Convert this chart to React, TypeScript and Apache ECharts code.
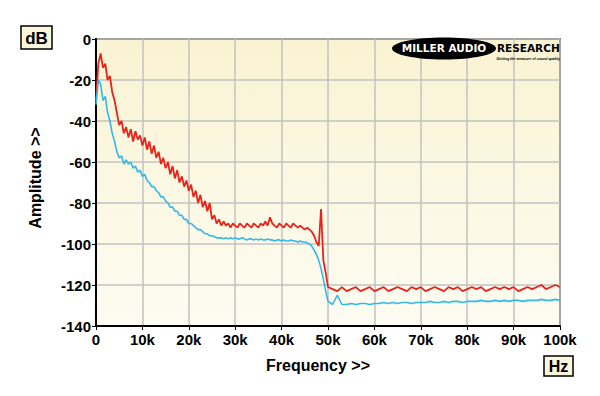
import React, { useEffect, useRef } from "react";
import * as echarts from "echarts";

// Frequency in kHz
const freqs: number[] = [
  0, 0.5, 1, 1.5, 2, 2.5, 3, 3.5, 4, 4.5, 5, 5.5, 6, 6.5, 7, 7.5, 8, 8.5, 9, 9.5,
  10, 10.5, 11, 11.5, 12, 12.5, 13, 13.5, 14, 14.5, 15, 15.5, 16, 16.5, 17, 17.5, 18, 18.5, 19, 19.5,
  20, 20.5, 21, 21.5, 22, 22.5, 23, 23.5, 24, 24.5, 25, 25.5, 26, 26.5, 27, 27.5, 28, 28.5, 29, 29.5,
  30, 30.5, 31, 31.5, 32, 32.5, 33, 33.5, 34, 34.5, 35, 35.5, 36, 36.5, 37, 37.5, 38, 38.5, 39, 39.5,
  40, 40.5, 41, 41.5, 42, 42.5, 43, 43.5, 44, 44.5, 45, 45.5, 46, 46.5, 47, 47.5, 48, 48.5, 49, 49.5,
  50, 51, 52, 53, 54, 55, 56, 57, 58, 59, 60, 61, 62, 63, 64, 65, 66, 67, 68, 69,
  70, 71, 72, 73, 74, 75, 76, 77, 78, 79, 80, 81, 82, 83, 84, 85, 86, 87, 88, 89,
  90, 91, 92, 93, 94, 95, 96, 97, 98, 99, 100,
];

const redDb: number[] = [
  -30, -12, -7, -14, -12, -20, -18, -26, -30, -36, -42, -40, -46, -43, -48, -44, -50, -45, -49, -47,
  -52, -48, -54, -50, -56, -52, -58, -55, -61, -58, -63, -60, -66, -62, -68, -64, -70, -67, -72, -69,
  -74, -71, -77, -74, -80, -76, -82, -79, -84, -80, -88, -86, -90, -88, -91, -89, -91, -90, -92, -90,
  -91, -92, -90, -91, -92, -90, -91, -92, -90, -91, -92, -90, -91, -89, -91, -87, -90, -91, -92, -90,
  -91, -92, -90, -91, -92, -90, -91, -92, -91, -92, -93, -92, -93, -94, -96, -99, -101, -83, -108, -114,
  -121, -122, -123, -121, -123, -122, -121, -123, -122, -121, -123, -122, -121, -123, -122, -121, -122, -123, -121, -122,
  -121, -123, -122, -121, -122, -123, -121, -122, -121, -123, -122, -121, -122, -121, -123, -122, -121, -122, -121, -122,
  -121, -123, -122, -121, -122, -121, -120, -122, -121, -120, -121,
];

const blueDb: number[] = [
  -32, -20, -22, -30, -28, -36, -40, -46, -50, -55, -58, -57, -61, -59, -61, -60, -63, -62, -65, -64,
  -67, -66, -69, -70, -72, -72, -74, -75, -77, -77, -79, -80, -82, -82, -84, -84, -86, -86, -88, -88,
  -90, -90, -91, -92, -93, -93, -94, -95, -95, -96, -96, -96.5, -97, -97, -97, -97.5, -97, -97.5, -97, -97.5,
  -97, -97.5, -97.5, -97, -97.5, -98, -97.5, -97.5, -98, -97.5, -98, -97.5, -98, -98, -97.5, -98, -98, -98.5, -98, -98,
  -98.5, -98, -98.5, -98.5, -98, -98.5, -98.5, -99, -98.5, -99, -99, -99.5, -100, -101, -103, -105, -108, -112, -117, -123,
  -128, -129.5, -125, -129.5, -129.5, -129, -129.5, -129, -129, -129.5, -129, -129, -128.5, -129, -128.5, -129, -128.5, -128.5, -129, -128.5,
  -128.5, -128.5, -128, -128.5, -128.5, -128, -128.5, -128, -128, -128.5, -128, -128, -128, -127.5, -128, -128, -127.5, -128, -127.5, -128,
  -127.5, -127.5, -128, -127.5, -127.5, -127.5, -127, -127.5, -127.5, -127, -127.5,
];

const yTicks = { min: -140, max: 0, step: 20 };
const xTicks = { min: 0, max: 100, step: 10 };

const FONT = "'Liberation Sans', Arial, sans-serif";
const HEAVY = "'DejaVu Sans', 'Liberation Sans', sans-serif";

export default function App() {
  const ref = useRef<HTMLDivElement>(null);
  useEffect(() => {
    if (!ref.current) return;
    const chart = echarts.init(ref.current, undefined, { renderer: "svg" });
    const red = freqs.map((f, i) => [f, redDb[i]]);
    const blue = freqs.map((f, i) => [f, blueDb[i]]);
    chart.setOption({
      animation: false,
      backgroundColor: "#ffffff",
      grid: {
        left: 96,
        right: 40,
        top: 39,
        bottom: 70,
        show: true,
        borderColor: "#1a1a1a",
        borderWidth: 1.5,
        backgroundColor: new echarts.graphic.LinearGradient(0, 0, 0, 1, [
          { offset: 0, color: "#faf3d2" },
          { offset: 1, color: "#fdfcf2" },
        ]),
      },
      xAxis: {
        type: "value",
        min: xTicks.min,
        max: xTicks.max,
        interval: xTicks.step,
        axisLine: { show: true, onZero: false, lineStyle: { color: "#000", width: 2 } },
        axisTick: { show: true, length: 4, lineStyle: { color: "#000", width: 1 } },
        axisLabel: {
          color: "#000",
          fontFamily: FONT,
          fontWeight: "bold",
          fontSize: 15,
          margin: 6,
          formatter: (v: number) => (v === 0 ? "0" : `${v}k`),
        },
        splitLine: { show: true, lineStyle: { color: "#c2c2c2", width: 1.5 } },
      },
      yAxis: {
        type: "value",
        min: yTicks.min,
        max: yTicks.max,
        interval: yTicks.step,
        axisLine: { show: true, onZero: false, lineStyle: { color: "#000", width: 2 } },
        axisTick: { show: true, length: 4, lineStyle: { color: "#000", width: 1 } },
        axisLabel: {
          color: "#000",
          fontFamily: FONT,
          fontWeight: "bold",
          fontSize: 15,
          margin: 5,
        },
        splitLine: { show: true, lineStyle: { color: "#c2c2c2", width: 1.5 } },
      },
      series: [
        {
          type: "line",
          data: red,
          showSymbol: false,
          lineStyle: { color: "#e8231a", width: 1.8 },
          z: 3,
        },
        {
          type: "line",
          data: blue,
          showSymbol: false,
          lineStyle: { color: "#33b8ea", width: 1.6 },
          z: 4,
        },
      ],
      graphic: [
        {
          type: "rect",
          shape: { x: 21, y: 26, width: 31, height: 23 },
          style: { fill: "#fbf7dc", stroke: "#000", lineWidth: 1.5 },
        },
        {
          type: "text",
          x: 36.5,
          y: 38,
          style: {
            text: "dB",
            fontFamily: FONT,
            fontWeight: "bold",
            fontSize: 17,
            fill: "#000",
            align: "center",
            verticalAlign: "middle",
          },
        },
        {
          type: "rect",
          shape: { x: 544, y: 356, width: 29, height: 20 },
          style: { fill: "#fbf7dc", stroke: "#000", lineWidth: 1.5 },
        },
        {
          type: "text",
          x: 558.5,
          y: 366.5,
          style: {
            text: "Hz",
            fontFamily: FONT,
            fontWeight: "bold",
            fontSize: 16,
            fill: "#000",
            align: "center",
            verticalAlign: "middle",
          },
        },
        {
          type: "text",
          x: 318,
          y: 365,
          style: {
            text: "Frequency >>",
            fontFamily: FONT,
            fontWeight: "bold",
            fontSize: 16,
            fill: "#000",
            align: "center",
            verticalAlign: "middle",
          },
        },
        {
          type: "text",
          x: 35,
          y: 178,
          rotation: Math.PI / 2,
          style: {
            text: "Amplitude >>",
            fontFamily: FONT,
            fontWeight: "bold",
            fontSize: 16,
            fill: "#000",
            align: "center",
            verticalAlign: "middle",
          },
        },
        {
          type: "ellipse",
          shape: { cx: 444, cy: 48.5, rx: 52, ry: 11 },
          style: { fill: "#000" },
          z: 10,
        },
        {
          type: "text",
          x: 444,
          y: 48,
          z: 11,
          style: {
            text: "MILLER AUDIO",
            fontFamily: HEAVY,
            fontWeight: "bold",
            fontSize: 10.5,
            fill: "#fff",
            align: "center",
            verticalAlign: "middle",
          },
        },
        {
          type: "text",
          x: 497,
          y: 47.5,
          z: 11,
          style: {
            text: "RESEARCH",
            fontFamily: HEAVY,
            fontWeight: "bold",
            fontSize: 10.5,
            fill: "#000",
            align: "left",
            verticalAlign: "middle",
          },
        },
        {
          type: "text",
          x: 560,
          y: 58.5,
          z: 11,
          style: {
            text: "Getting the measure of sound quality",
            fontFamily: FONT,
            fontWeight: "bold",
            fontStyle: "italic",
            fontSize: 3.6,
            fill: "#000",
            align: "right",
            verticalAlign: "middle",
          },
        },
      ],
    });
    return () => chart.dispose();
  }, []);
  return <div ref={ref} style={{ width: 600, height: 396, position: "absolute", left: 0, top: 0 }} />;
}
